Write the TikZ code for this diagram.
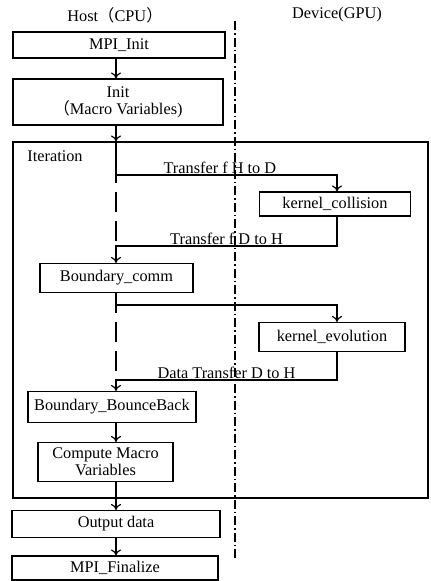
\documentclass[tikz,border=0pt]{standalone}
\usepackage{fontspec}
\setmainfont{Liberation Serif}
\newfontfamily\cjk{Noto Sans CJK SC}
\usetikzlibrary{arrows.meta}
\begin{document}
\begin{tikzpicture}[x=1pt,y=-1pt,
  box/.style={draw,line width=1.1pt,inner sep=1pt,align=center,font=\fontsize{16.3}{17}\selectfont},
  lbl/.style={font=\fontsize{16.3}{17}\selectfont,inner sep=1pt},
  flow/.style={line width=1.2pt},
  arr/.style={flow,-{To[length=6pt,width=10pt]}},
  life/.style={line width=1.2pt,dash pattern=on 20pt off 9pt,dash phase=12pt},
  divider/.style={line width=1.1pt,dash pattern=on 9pt off 3pt on 1.5pt off 3pt}]
\useasboundingbox (0,0) rectangle (431,581);

\coordinate (hostx) at (116,0);
\coordinate (devx) at (337,0);
\coordinate (divtop) at (235,21);
\coordinate (divbot) at (235,558);

\node[lbl] (host) at (115,15) {Host{\cjk （}CPU{\cjk ）}};
\node[lbl] (device) at (337,15) {Device(GPU)};
\draw[divider] (divtop) -- (divbot);

\node[box,minimum width=212pt,minimum height=26pt] (mpiinit) at (119,45) {MPI\_Init};
\node[box,minimum width=210pt,minimum height=46pt] (init) at (118,102) {Init\\{\cjk （}Macro Variables)};
\node[draw,line width=1.1pt,minimum width=415pt,minimum height=356pt] (iter) at (220.5,320) {};
\node[lbl] (iterlbl) at (55,156) {Iteration};
\node[box,minimum width=151pt,minimum height=24pt] (kcoll) at (335,204) {kernel\_collision};
\node[box,minimum width=153pt,minimum height=29pt] (bcomm) at (116.5,278) {Boundary\_comm};
\node[box,minimum width=146pt,minimum height=29pt] (kevol) at (332,337) {kernel\_evolution};
\node[box,minimum width=168pt,minimum height=31pt] (bbb) at (112,407) {Boundary\_BounceBack};
\node[box,minimum width=135pt,minimum height=39pt] (cmv) at (105.5,462) {Compute Macro\\Variables};
\node[box,minimum width=208pt,minimum height=27pt] (output) at (116,524) {Output data};
\node[box,minimum width=206pt,minimum height=24pt] (mpifin) at (115,568) {MPI\_Finalize};

\coordinate (h2d) at (116,175);
\coordinate (d2h) at (116,246);
\coordinate (h2e) at (116,305);
\coordinate (e2h) at (116,380);

\draw[arr] (mpiinit.south -| hostx) -- (init.north -| hostx);
\draw[arr] (init.south -| hostx) -- (iter.north -| hostx);
\draw[arr] (iter.north -| hostx) -- (h2d) -- node[lbl,above,pos=0.47] (lblhd) {Transfer f H to D} (h2d -| devx) -- (kcoll.north -| devx);
\draw[life] (h2d) -- (d2h);
\draw[arr] (kcoll.south -| devx) -- (d2h -| devx) -- node[lbl,above] (lbldh) {Transfer f D to H} (d2h) -- (bcomm.north -| hostx);
\draw[arr] (bcomm.south -| hostx) -- (h2e) -- (h2e -| devx) -- (kevol.north -| devx);
\draw[life] (h2e) -- (e2h);
\draw[arr] (kevol.south -| devx) -- (e2h -| devx) -- node[lbl,above] (lbldata) {Data Transfer D to H} (e2h) -- (bbb.north -| hostx);
\draw[arr] (bbb.south -| hostx) -- (cmv.north -| hostx);
\draw[arr] (cmv.south -| hostx) -- (output.north -| hostx);
\draw[arr] (output.south -| hostx) -- (mpifin.north -| hostx);
\end{tikzpicture}
\end{document}
